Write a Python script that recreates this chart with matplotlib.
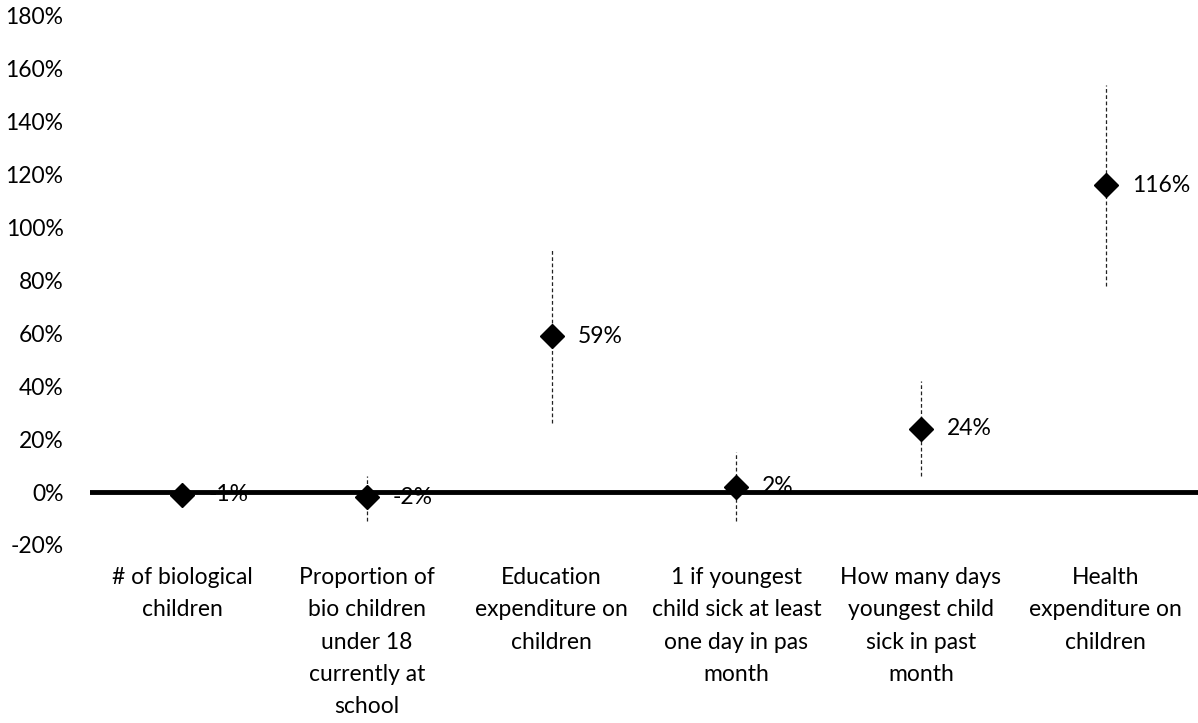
import numpy as np
import matplotlib.pyplot as plt

# Data (percent)
categories = [
    "# of biological\nchildren",
    "Proportion of\nbio children\nunder 18\ncurrently at\nschool",
    "Education\nexpenditure on\nchildren",
    "1 if youngest\nchild sick at least\none day in pas\nmonth",
    "How many days\nyoungest child\nsick in past\nmonth",
    "Health\nexpenditure on\nchildren",
]
effects = [-1, -2, 59, 2, 24, 116]
ci_low = [-1.8, -11, 26, -11, 6, 78]
ci_high = [-0.2, 6, 92, 15, 42, 154]
yticks = list(range(-20, 181, 20))

plt.rcParams['font.family'] = ['Lato', 'DejaVu Sans']
fs = 16.5

fig = plt.figure(figsize=(11.98, 7.23), dpi=100)
ax = fig.add_axes([0.0751, 0.2462, 0.9249, 0.7318])

x = np.arange(len(categories))
eff = np.array(effects)
err = np.array([eff - np.array(ci_low), np.array(ci_high) - eff])

ax.axhline(0, color="black", lw=3.5, zorder=1)
eb = ax.errorbar(x, eff, yerr=err, fmt="none", ecolor="#222222", elinewidth=0.9, capsize=0, zorder=2)
eb[2][0].set_linestyle((0, (3, 2)))
ax.plot(x, eff, linestyle="none", marker="D", markersize=12, color="black", zorder=3)

for xi, v in zip(x, effects):
    ax.annotate(f"{v}%", (xi, v), xytext=(26, 0), textcoords="offset pixels",
                va="center", ha="left", fontsize=fs)

ax.set_xlim(-0.5, 5.5)
ax.set_ylim(-20, 180)
ax.set_yticks(yticks)
ax.set_yticklabels([f"{t}%" for t in yticks], fontsize=fs)
ax.set_xticks(x)
ax.set_xticklabels(categories, fontsize=fs, linespacing=1.66, va="top")
ax.tick_params(axis="both", length=0)
ax.tick_params(axis="y", pad=19)
ax.tick_params(axis="x", pad=16)
for s in ax.spines.values():
    s.set_visible(False)

fig.savefig("out.png", dpi=100)
